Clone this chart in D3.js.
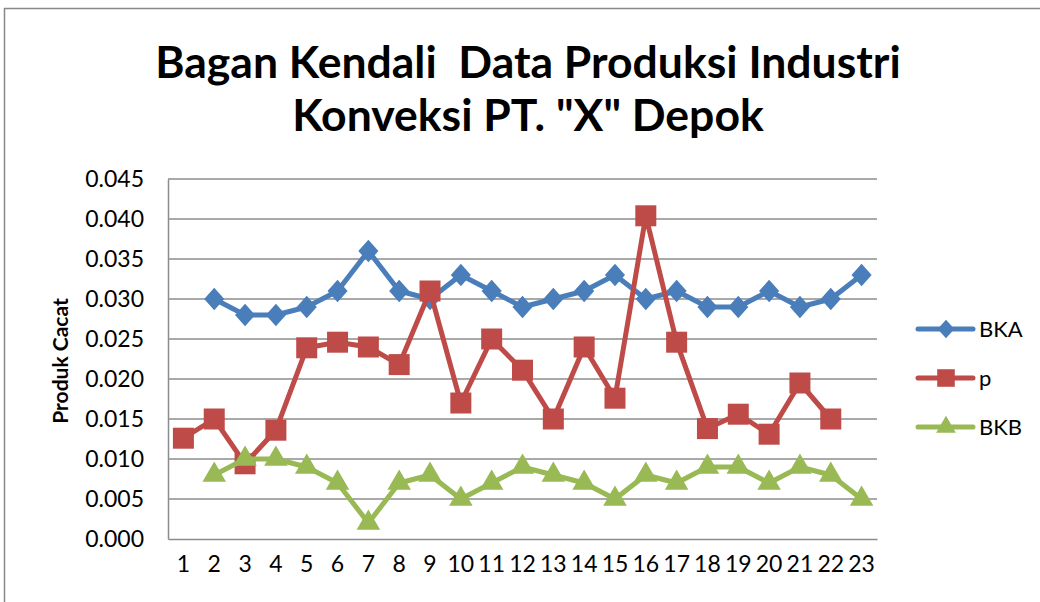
<!DOCTYPE html>
<html>
<head>
<meta charset="utf-8">
<script src="https://cdn.jsdelivr.net/npm/d3@7"></script>
<style>
  html, body { margin: 0; padding: 0; background: #fff; }
  svg { display: block; }
</style>
</head>
<body>
<div id="chart"></div>
<script>
// data
const categories = d3.range(1, 24).map(String);
const bka = [null, 0.030, 0.028, 0.028, 0.029, 0.031, 0.036, 0.031, 0.030, 0.033, 0.031, 0.029, 0.030, 0.031, 0.033, 0.030, 0.031, 0.029, 0.029, 0.031, 0.029, 0.030, 0.033];
const pVals = [0.0126, 0.0150, 0.0094, 0.0136, 0.0239, 0.0246, 0.0240, 0.0218, 0.0310, 0.0170, 0.0250, 0.0211, 0.0150, 0.0240, 0.0176, 0.0404, 0.0246, 0.0138, 0.0156, 0.0131, 0.0195, 0.0150, null];
const bkb = [null, 0.008, 0.010, 0.010, 0.009, 0.007, 0.002, 0.007, 0.008, 0.005, 0.007, 0.009, 0.008, 0.007, 0.005, 0.008, 0.007, 0.009, 0.009, 0.007, 0.009, 0.008, 0.005];
const yTicks = [0, 0.005, 0.010, 0.015, 0.020, 0.025, 0.030, 0.035, 0.040, 0.045];

// Excel-like diamond: a bit wider than d3's default one
const wideDiamond = {
  draw(ctx, size) {
    const h = Math.sqrt(size) / 2, w = h * 0.9;
    ctx.moveTo(0, -h); ctx.lineTo(w, 0); ctx.lineTo(0, h); ctx.lineTo(-w, 0); ctx.closePath();
  }
};

const series = [
  { name: 'BKA', values: bka, color: '#4A7EBB', symbol: wideDiamond, size: 500 },
  { name: 'p', values: pVals, color: '#BE4B48', symbol: d3.symbolSquare, size: 441 },
  { name: 'BKB', values: bkb, color: '#98B954', symbol: d3.symbolTriangle, size: 240 }
];

const W = 1040, H = 602;
const plot = { left: 168, right: 877, top: 179, bottom: 539 };
const font = 'Lato, "Open Sans", sans-serif';

const svg = d3.select('#chart').append('svg')
  .attr('width', W).attr('height', H);

// outer frame (cut off at right and bottom)
svg.append('rect')
  .attr('x', 4.5).attr('y', 8.5)
  .attr('width', W + 20).attr('height', H + 20)
  .attr('fill', 'none').attr('stroke', '#888').attr('stroke-width', 1.5);

// title
const title = svg.append('text')
  .attr('text-anchor', 'middle')
  .attr('font-family', font)
  .attr('font-weight', 'bold')
  .attr('font-size', 44.5)
  .attr('fill', '#000');
title.append('tspan').attr('x', 528).attr('y', 78).attr('xml:space', 'preserve').text('Bagan Kendali  Data Produksi Industri');
title.append('tspan').attr('x', 528).attr('y', 131).text('Konveksi PT. "X" Depok');

const x = d3.scaleBand().domain(categories).range([plot.left, plot.right]);
const y = d3.scaleLinear().domain([0, 0.045]).range([plot.bottom, plot.top]);

// gridlines
svg.append('g').selectAll('line')
  .data(yTicks.slice(1))
  .join('line')
  .attr('x1', plot.left).attr('x2', plot.right)
  .attr('y1', d => y(d)).attr('y2', d => y(d))
  .attr('stroke', '#8c8c8c').attr('stroke-width', 1.3);

// axes
const yAxis = svg.append('g')
  .attr('transform', `translate(${plot.left},0)`)
  .call(d3.axisLeft(y).tickValues(yTicks).tickFormat(d3.format('.3f')).tickSize(0).tickPadding(24));
const xAxis = svg.append('g')
  .attr('transform', `translate(0,${plot.bottom})`)
  .call(d3.axisBottom(x).tickSize(0).tickPadding(25));

[yAxis, xAxis].forEach(a => {
  a.select('.domain').attr('stroke', '#8c8c8c').attr('stroke-width', 1.5);
  a.selectAll('text')
    .attr('font-family', font)
    .attr('font-size', 23)
    .attr('fill', '#000');
});
xAxis.selectAll('text').attr('dy', '0.36em');

// y axis title
svg.append('text')
  .attr('transform', 'translate(68,361) rotate(-90)')
  .attr('text-anchor', 'middle')
  .attr('font-family', font)
  .attr('font-weight', 'bold')
  .attr('font-size', 21)
  .text('Produk Cacat');

// lines and markers
const cx = (d, i) => x(categories[i]) + x.bandwidth() / 2;
series.forEach(s => {
  const line = d3.line()
    .defined(d => d != null)
    .x(cx)
    .y(d => y(d));
  svg.append('path')
    .datum(s.values)
    .attr('d', line)
    .attr('fill', 'none')
    .attr('stroke', s.color)
    .attr('stroke-width', 5)
    .attr('stroke-linejoin', 'round');

  const pts = s.values.map((v, i) => ({ v, i })).filter(d => d.v != null);
  svg.append('g').selectAll('path')
    .data(pts)
    .join('path')
    .attr('transform', d => `translate(${cx(d.v, d.i)},${y(d.v)})`)
    .attr('d', d3.symbol().type(s.symbol).size(s.size))
    .attr('fill', s.color);
});

// legend
const legend = svg.append('g').attr('transform', 'translate(918,329)');
series.forEach((s, i) => {
  const g = legend.append('g').attr('transform', `translate(0,${i * 49})`);
  g.append('line')
    .attr('x1', 0).attr('x2', 55)
    .attr('stroke', s.color).attr('stroke-width', 5).attr('stroke-linecap', 'round');
  g.append('path')
    .attr('transform', 'translate(28,0)')
    .attr('d', d3.symbol().type(s.symbol).size(s.size * 0.7))
    .attr('fill', s.color);
  g.append('text')
    .attr('x', 61).attr('dy', '0.36em')
    .attr('font-family', font)
    .attr('font-size', 22)
    .text(s.name);
});
</script>
</body>
</html>
